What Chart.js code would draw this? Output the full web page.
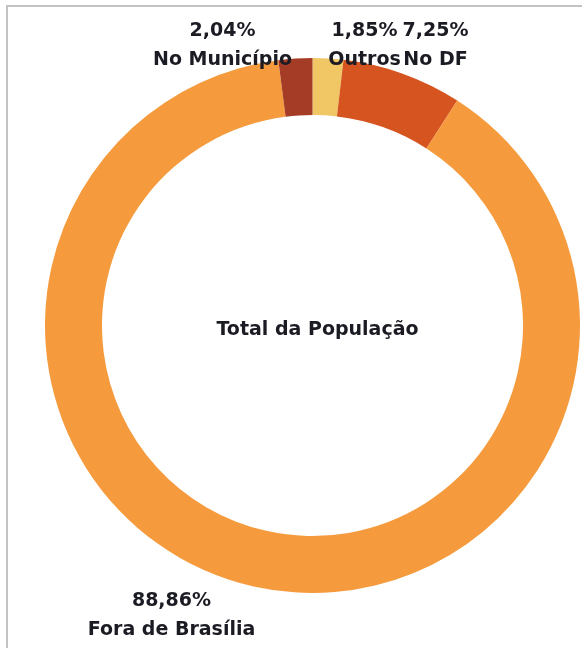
<!DOCTYPE html>
<html>
<head>
<meta charset="utf-8">
<script src="https://cdn.jsdelivr.net/npm/chart.js@4"></script>
<style>
    html, body { margin: 0; padding: 0; background: #ffffff; }
    #wrap { position: relative; width: 582px; height: 648px; overflow: hidden; }
    #frame { position: absolute; left: 6px; top: 5px; width: 600px; height: 700px;
             border-left: 2px solid #c3c3c3; border-top: 2px solid #c3c3c3; }
    canvas { position: absolute; left: 0; top: 0; }
</style>
</head>
<body>
<div id="wrap">
    <div id="frame"></div>
    <canvas id="popChart" width="582" height="648"></canvas>
</div>
<script>
/*
------------------------------------------------------------
Dados
------------------------------------------------------------
*/

const categories = ["Outros", "No DF", "Fora de Brasília", "No Município"];

const percentValues = [1.85, 7.25, 88.86, 2.04];

const valueLabels = ["1,85%", "7,25%", "88,86%", "2,04%"];

const sliceColors = ["#f1c766", "#d6541f", "#f59b3e", "#a53d26"];

const centerTitle = "Total da População";

// posição dos rótulos relativa ao centro do anel (px)
const labelSpots = [
    { dx: 52, dy: -290 },
    { dx: 123, dy: -290 },
    { dx: -141, dy: 280 },
    { dx: -90, dy: -290 }
];

const FONT = "bold 19px 'DejaVu Sans', Verdana, sans-serif";

/*
------------------------------------------------------------
Rótulos
------------------------------------------------------------
*/

const labelPlugin = {

    id: "labelPlugin",

    afterDatasetsDraw(chart) {

        const ctx = chart.ctx;
        const arcs = chart.getDatasetMeta(0).data;
        const cx = arcs[0].x;
        const cy = arcs[0].y;

        ctx.save();
        ctx.font = FONT;
        ctx.fillStyle = "#1b1b24";
        ctx.textAlign = "center";
        ctx.textBaseline = "alphabetic";

        arcs.forEach((arc, i) => {
            const x = cx + labelSpots[i].dx;
            const y = cy + labelSpots[i].dy;
            ctx.fillText(valueLabels[i], x, y);
            ctx.fillText(categories[i], x, y + 29);
        });

        ctx.fillText(centerTitle, cx + 5, cy + 9);
        ctx.restore();
    }
};

/*
------------------------------------------------------------
Gráfico
------------------------------------------------------------
*/

const ctx = document.getElementById("popChart").getContext("2d");

new Chart(ctx, {

    type: "doughnut",

    data: {
        labels: categories,
        datasets: [
            {
                data: percentValues,
                backgroundColor: sliceColors,
                borderWidth: 0
            }
        ]
    },

    options: {
        responsive: false,
        animation: false,
        cutout: "78.7%",
        layout: {
            padding: { left: 45, right: 2, top: 58, bottom: 55 }
        },
        plugins: {
            legend: { display: false },
            tooltip: { enabled: false }
        }
    },

    plugins: [labelPlugin]

});
</script>
</body>
</html>
